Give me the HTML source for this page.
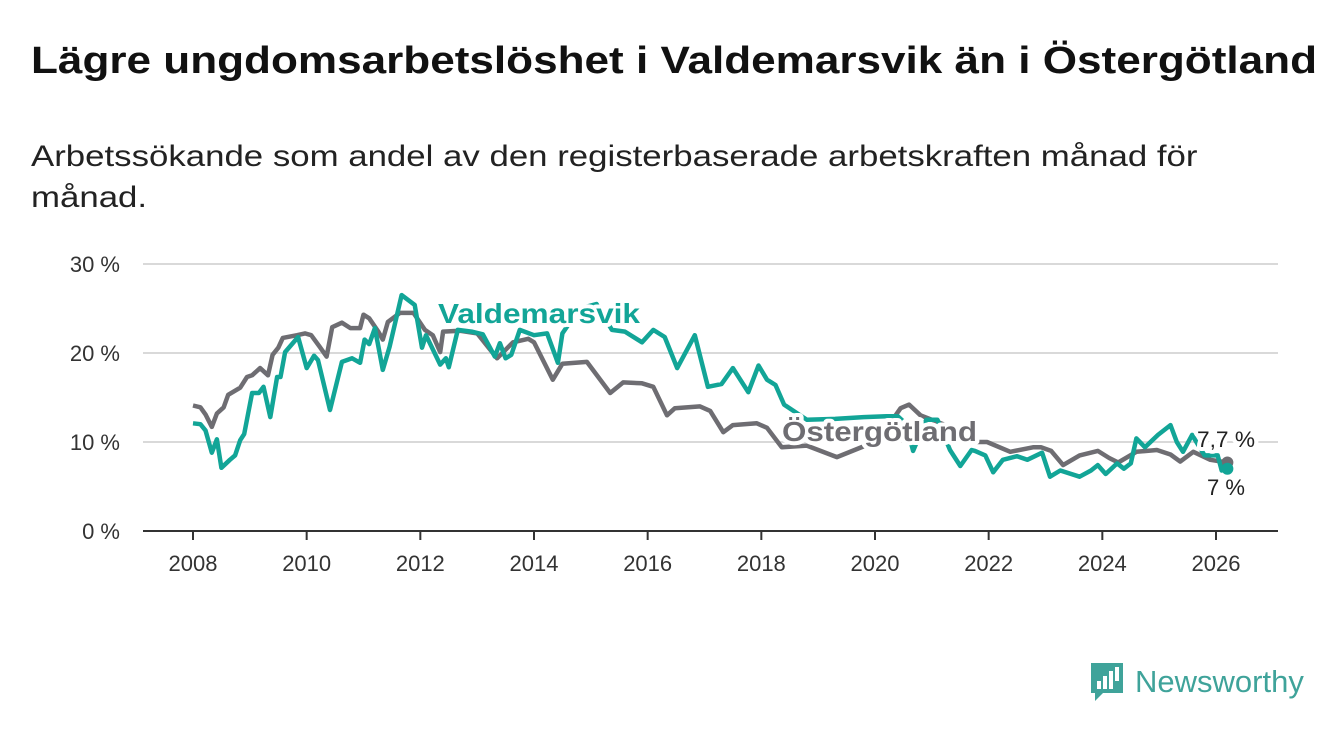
<!DOCTYPE html>
<html><head><meta charset="utf-8"><style>
body{margin:0;background:#fff;width:1340px;height:734px;overflow:hidden;font-family:"Liberation Sans","DejaVu Sans",sans-serif}
h1{position:absolute;left:31px;top:40px;margin:0;font-size:38px;font-weight:bold;color:#111;transform-origin:0 0;transform:scaleX(1.16);white-space:nowrap}
p{position:absolute;left:31px;top:136px;margin:0;font-size:30px;line-height:41px;color:#222;transform-origin:0 0;transform:scaleX(1.16);white-space:nowrap}
</style></head><body>
<h1>Lägre ungdomsarbetslöshet i Valdemarsvik än i Östergötland</h1>
<p>Arbetssökande som andel av den registerbaserade arbetskraften månad för<br>månad.</p>
<svg id="chart" width="1340" height="734" style="position:absolute;left:0;top:0"></svg>
<div style="position:absolute;left:1089px;top:661px;display:flex;align-items:center">
<svg width="36" height="42"><path d="M2 2h32v30H14l-8 8v-8H2z" fill="#3fa39a"/><rect x="8" y="20" width="4" height="8" fill="#fff"/><rect x="14" y="15" width="4" height="13" fill="#fff"/><rect x="20" y="10" width="4" height="18" fill="#fff"/><rect x="26" y="6" width="4" height="14" fill="#fff"/></svg>
<span style="font-size:31px;color:#3fa39a;margin-left:10px;font-weight:500">Newsworthy</span></div>
<script>
const xTicks=[2008,2010,2012,2014,2016,2018,2020,2022,2024,2026];
const yTicks=[0,10,20,30];
const yTickLabels=["0 %","10 %","20 %","30 %"];
const ostYears=[2008,2008.13,2008.22,2008.33,2008.42,2008.54,2008.62,2008.83,2008.95,2009.04,2009.18,2009.32,2009.4,2009.5,2009.58,2009.83,2009.97,2010.08,2010.23,2010.35,2010.45,2010.62,2010.77,2010.94,2011.0,2011.1,2011.26,2011.34,2011.43,2011.64,2011.88,2012.08,2012.22,2012.35,2012.4,2012.7,2013.0,2013.35,2013.63,2013.9,2014.0,2014.33,2014.5,2014.93,2015.34,2015.57,2015.9,2016.1,2016.34,2016.48,2016.92,2017.1,2017.33,2017.5,2017.92,2018.1,2018.36,2018.8,2019.33,2019.8,2020.2,2020.45,2020.6,2020.8,2021.2,2021.5,2021.8,2021.97,2022.38,2022.78,2022.92,2023.1,2023.31,2023.6,2023.92,2024.12,2024.28,2024.6,2024.96,2025.2,2025.37,2025.6,2025.9,2026.2];
const ostVals=[14.1,13.9,13.1,11.7,13.2,13.9,15.3,16.1,17.3,17.5,18.3,17.5,19.8,20.6,21.7,22,22.2,22,20.7,19.6,22.9,23.4,22.8,22.8,24.3,23.9,22.4,21.5,23.5,24.5,24.5,22.6,22,20.1,22.4,22.5,22.2,19.4,21.2,21.6,21.2,17,18.8,19,15.5,16.7,16.6,16.2,13,13.8,14,13.5,11.1,11.9,12.1,11.6,9.4,9.6,8.3,9.5,11.5,13.8,14.2,13,12,10.8,10,10,8.9,9.4,9.4,9,7.4,8.5,9,8.2,7.7,8.9,9.1,8.6,7.8,8.9,8,7.7];
const valYears=[2008,2008.13,2008.22,2008.33,2008.42,2008.5,2008.65,2008.74,2008.83,2008.9,2009.04,2009.16,2009.24,2009.36,2009.48,2009.54,2009.62,2009.85,2010.0,2010.13,2010.2,2010.41,2010.62,2010.8,2010.94,2011.02,2011.1,2011.2,2011.34,2011.46,2011.67,2011.9,2012.03,2012.1,2012.35,2012.45,2012.5,2012.66,2012.9,2013.1,2013.31,2013.4,2013.5,2013.6,2013.75,2014.0,2014.23,2014.42,2014.5,2014.8,2015.1,2015.37,2015.6,2015.9,2016.1,2016.3,2016.52,2016.83,2017.06,2017.3,2017.5,2017.77,2017.95,2018.1,2018.25,2018.4,2018.8,2019.3,2019.8,2020.2,2020.4,2020.55,2020.67,2020.9,2021.1,2021.32,2021.5,2021.7,2021.76,2021.94,2022.08,2022.25,2022.5,2022.68,2022.94,2023.08,2023.26,2023.6,2023.8,2023.92,2024.06,2024.26,2024.38,2024.5,2024.6,2024.75,2024.98,2025.2,2025.31,2025.42,2025.58,2025.8,2026.03,2026.1,2026.2];
const valVals=[12.1,12,11.3,8.8,10.3,7.1,8,8.5,10.2,10.9,15.5,15.5,16.2,12.8,17.3,17.3,20.1,21.8,18.3,19.7,19.2,13.6,19,19.4,18.9,21.5,21,22.8,18.1,20.7,26.5,25.4,20.6,22,18.7,19.4,18.4,22.6,22.4,22.1,19.6,21.1,19.4,19.8,22.6,22,22.2,18.9,22.2,25,25.5,22.6,22.4,21.2,22.6,21.8,18.3,22,16.2,16.5,18.3,15.6,18.6,17,16.4,14.2,12.5,12.6,12.8,12.9,12.9,12,9,12.5,12.5,9.1,7.3,9.1,9,8.5,6.6,8,8.4,8,8.8,6.1,6.8,6.1,6.8,7.4,6.4,7.6,7,7.6,10.4,9.4,10.8,11.9,10,8.9,10.8,8.5,8.5,6.8,7];
const NS="http://www.w3.org/2000/svg",svg=document.getElementById('chart');
const X=yr=>193+(yr-2008)*(1216-193)/18, Y=v=>531-v*8.9;
function mk(t,a,p){const e=document.createElementNS(NS,t);for(const k in a)e.setAttribute(k,a[k]);(p||svg).appendChild(e);return e;}
yTicks.forEach((v,i)=>{
 if(v>0){const g=mk('line',{x1:143,x2:1278,y1:Y(v),y2:Y(v),stroke:'#d9d9d9','stroke-width':2});
 
 }
 const t=mk('text',{x:120,y:Y(v)+8,'text-anchor':'end','font-size':22,fill:'#333'});t.textContent=yTickLabels[i];
 
 
});
const ax=mk('line',{x1:143,x2:1278,y1:531,y2:531,stroke:'#333','stroke-width':2});


xTicks.forEach(yr=>{
 mk('line',{x1:X(yr),x2:X(yr),y1:531,y2:540,stroke:'#333','stroke-width':2});
 const t=mk('text',{x:X(yr),y:571,'text-anchor':'middle','font-size':22,fill:'#333'});t.textContent=yr;
 
 
});
function line(ys,vs,c,name){
 const d=ys.map((y,i)=>(i?'L':'M')+X(y).toFixed(1)+' '+Y(vs[i]).toFixed(1)).join('');
 const p=mk('path',{d,fill:'none',stroke:c,'stroke-width':4.5,'stroke-linejoin':'round'});
 
 
 const n=ys.length-1;
 const c2=mk('circle',{cx:X(ys[n]),cy:Y(vs[n]),r:6,fill:c});
 
 
}
line(ostYears,ostVals,'#6e6d72','ostergotland-line');
line(valYears,valVals,'#12a597','valdemarsvik-line');
function lab(txt,x,y,c,fs,w,name,len){
 const a={x,y,fill:c,'font-size':fs,'font-weight':w,stroke:'#fff','stroke-width':8,'paint-order':'stroke','stroke-linejoin':'round'};
 if(len){a.textLength=len;a.lengthAdjust='spacingAndGlyphs';}
 const t=mk('text',a);
 t.textContent=txt;
 
 
}
lab('Valdemarsvik',438,323,'#12a597',28,'bold','valdemarsvik-label',202);
lab('Östergötland',782,441,'#6e6d72',28,'bold','ostergotland-label',195);
lab('7,7 %',1197,447,'#222',22,'normal','ostergotland-end-value',58);
lab('7 %',1207,495,'#222',22,'normal','valdemarsvik-end-value',38);
</script>
</body></html>
